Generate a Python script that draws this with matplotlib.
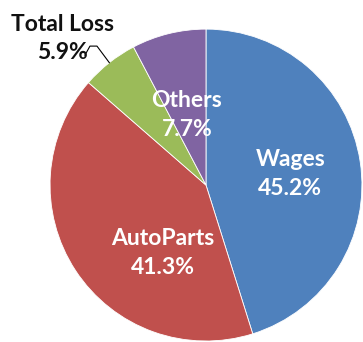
import numpy as np
import matplotlib
matplotlib.use("Agg")
import matplotlib.pyplot as plt

labels = ["Wages", "AutoParts", "Total Loss", "Others"]
shares = [45.2, 41.3, 5.9, 7.7]
colors = ["#4F81BD", "#C0504D", "#9BBB59", "#8064A2"]

# label anchor points inside the pie (data units, radius 1)
label_pos = {
    "Wages": (0.54, 0.07),
    "AutoParts": (-0.276, -0.436),
    "Others": (-0.122, 0.449),
}
outside_label = "Total Loss"
outside_pos = (-0.923, 0.94)

plt.rcParams["font.family"] = ["Lato", "DejaVu Sans"]

fig = plt.figure(figsize=(3.63, 3.42), dpi=100)
ax = fig.add_axes([0.1377, 0.0029, 0.8595, 0.912])

wedges, _ = ax.pie(
    shares,
    colors=colors,
    startangle=90,
    counterclock=False,
    radius=1.0,
    wedgeprops={"edgecolor": "white", "linewidth": 0.6},
)

for name, value, w in zip(labels, shares, wedges):
    text = f"{name}\n{value:.1f}%"
    if name == outside_label:
        mid = np.deg2rad((w.theta1 + w.theta2) / 2)
        ex, ey = np.cos(mid), np.sin(mid)
        ax.plot(
            [outside_pos[0] + 0.147, outside_pos[0] + 0.179, outside_pos[0] + 0.224, ex],
            [outside_pos[1] - 0.107, outside_pos[1] - 0.049, outside_pos[1] - 0.049, ey],
            color="black", linewidth=0.8, clip_on=False,
        )
        ax.text(outside_pos[0], outside_pos[1], text, ha="center", va="center",
                fontsize=16.5, fontweight="bold", color="#111111",
                linespacing=1.45)
    else:
        x, y = label_pos[name]
        ax.text(x, y, text, ha="center", va="center", fontsize=16.5,
                fontweight="bold", color="white", linespacing=1.45)

ax.set_xlim(-1, 1)
ax.set_ylim(-1, 1)
ax.axis("off")

fig.savefig("out.png", dpi=100)
plt.close(fig)
